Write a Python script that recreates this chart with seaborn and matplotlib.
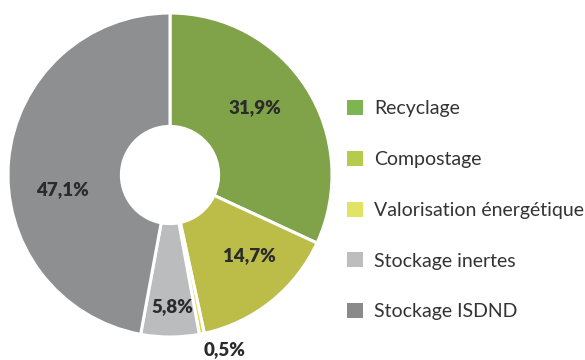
import numpy as np
import matplotlib
matplotlib.use("Agg")
import matplotlib.pyplot as plt
from matplotlib.patches import Patch
import seaborn as sns

categories = ["Recyclage", "Compostage", "Valorisation énergétique",
              "Stockage inertes", "Stockage ISDND"]
shares = [31.9, 14.7, 0.5, 5.8, 47.1]
value_labels = ["31,9%", "14,7%", "0,5%", "5,8%", "47,1%"]
slice_colors = ["#80a34a", "#bcbd48", "#dcd95a", "#bbbcbe", "#8e8f91"]
legend_colors = ["#7db552", "#b4cc4e", "#e0e464", "#bdbdbd", "#8a8a8a"]

sns.set_theme(style="white")
plt.rcParams["font.family"] = ["Lato", "DejaVu Sans"]

W, H = 585, 360
fig = plt.figure(figsize=(W / 100, H / 100), dpi=100)
cx, cy, R = 170, 175, 162
ax = fig.add_axes([(cx - R) / W, (H - cy - R) / H, 2 * R / W, 2 * R / H])

wedges, _ = ax.pie(shares, colors=slice_colors, startangle=90, counterclock=False,
                   radius=1.0,
                   wedgeprops=dict(width=0.70, edgecolor="white", linewidth=2.2))
ax.set_xlim(-1, 1)
ax.set_ylim(-1, 1)
ax.axis("off")

# label radius (fraction of outer radius) and angular shift per slice
label_r = [0.67, 0.70, 1.13, 0.81, 0.67]
label_shift = [6, 6, 6, 1, 13]
start = 90.0
for val, txt, r, d in zip(shares, value_labels, label_r, label_shift):
    mid = start - val * 3.6 / 2
    ang = np.deg2rad(mid + d)
    ax.text(r * np.cos(ang), r * np.sin(ang), txt, ha="center", va="center",
            fontsize=13.5, fontweight="heavy", color="#2b2b2b")
    start -= val * 3.6

handles = [Patch(facecolor=c, edgecolor="none") for c in legend_colors]
fig.legend(handles, categories, loc="upper left",
           bbox_to_anchor=(347 / W, 1 - 100 / H), frameon=False,
           fontsize=14, handlelength=0.82, handleheight=0.82,
           handletextpad=0.58, labelspacing=1.72, labelcolor="#333333",
           borderaxespad=0, borderpad=0)

fig.savefig("out.png", dpi=100, facecolor="white")
